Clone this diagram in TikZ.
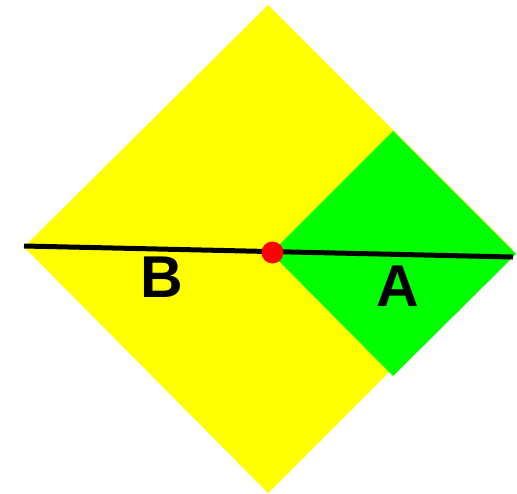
\documentclass[tikz,border=0pt]{standalone}
\usepackage{fontspec}
\setmainfont{Liberation Sans}
\definecolor{regB}{RGB}{255,255,0}
\definecolor{regA}{RGB}{0,255,0}
\definecolor{pt}{RGB}{255,0,0}
\usetikzlibrary{calc}

\begin{document}
\begin{tikzpicture}[x=1pt, y=-1pt,
  region/.style={draw=none},
  cut/.style={line width=5pt, black},
  dot/.style={circle, fill=pt, inner sep=0pt, minimum size=22pt},
  lab/.style={font=\fontsize{59}{62}\selectfont\bfseries, inner sep=0pt}]
\useasboundingbox (0,0) rectangle (517,493);
% outer square (rotated)
\coordinate (nT) at (268,5);
\coordinate (nL) at (24,247);
\coordinate (nB) at (268,493);
\coordinate (nR) at (512,249);
% inner square
\coordinate (gT) at (393,131);
\coordinate (gR) at (516,254);
\coordinate (gB) at (393,376);
\coordinate (gL) at (271,253);
\fill[region, regB] (nT) -- (nL) -- (nB) -- (nR) -- cycle;
\fill[region, regA] (gT) -- (gR) -- (gB) -- (gL) -- cycle;
\coordinate (cL) at (24,246);
\coordinate (cR) at (513,257);
\draw[cut] (cL) -- (cR);
\node[dot] (p) at (272.5,252.5) {};
\node[lab] (labB) at (162,277) {B};
\node[lab] (labA) at (398,286) {A};
\end{tikzpicture}
\end{document}
